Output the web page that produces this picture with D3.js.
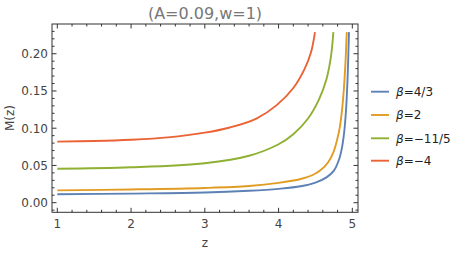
<!DOCTYPE html>
<html><head><meta charset="utf-8">
<script src="https://cdn.jsdelivr.net/npm/d3@7"></script>
<style>body{margin:0;background:#fff}svg{display:block}</style>
</head><body>
<script>
const title = "(A=0.09,w=1)";
const xTicks = [1, 2, 3, 4, 5];
const yTicks = [0, 0.05, 0.10, 0.15, 0.20];
const yTickLabels = ["0.00", "0.05", "0.10", "0.15", "0.20"];
const seriesNames = ["4/3", "2", "\u221211/5", "\u22124"];
const seriesColors = ["#5E81B5", "#E19C24", "#8FB032", "#EB6235"];

const blueZ = [1, 2, 3, 3.6, 4, 4.3, 4.5, 4.65, 4.75, 4.82, 4.86, 4.89, 4.915, 4.935, 4.955];
const blueM = [0.0113, 0.0122, 0.0136, 0.016, 0.0186, 0.022, 0.027, 0.034, 0.043, 0.058, 0.074, 0.095, 0.125, 0.165, 0.229];
const orangeZ = [1, 2, 3, 3.6, 4, 4.3, 4.47, 4.58, 4.67, 4.74, 4.79, 4.83, 4.86, 4.885, 4.907, 4.925];
const orangeM = [0.0166, 0.0178, 0.0198, 0.0224, 0.0266, 0.0318, 0.0375, 0.0445, 0.054, 0.067, 0.083, 0.101, 0.124, 0.152, 0.188, 0.229];
const greenZ = [1, 2, 3, 3.6, 4, 4.2, 4.4, 4.55, 4.65, 4.71, 4.743];
const greenM = [0.0456, 0.0475, 0.053, 0.063, 0.0785, 0.092, 0.113, 0.139, 0.166, 0.196, 0.229];
const redZ = [1, 1.5, 2, 2.5, 3, 3.34, 3.7, 3.975, 4.2, 4.35, 4.44, 4.494];
const redM = [0.082, 0.0828, 0.0845, 0.0877, 0.094, 0.101, 0.113, 0.131, 0.154, 0.179, 0.202, 0.229];

const series = [[blueZ, blueM], [orangeZ, orangeM], [greenZ, greenM], [redZ, redM]];

const W = 451, H = 254;
const svg = d3.select("body").append("svg").attr("width", W).attr("height", H)
  .style("font-family", "'DejaVu Sans', sans-serif");

const x = d3.scaleLinear().domain([0.928, 5.077]).range([52, 358]);
const y = d3.scaleLinear().domain([-0.0129, 0.2399]).range([212.3, 24]);

const frameColor = "#333";
const labelColor = "#444";

svg.append("clipPath").attr("id", "clip").append("rect")
  .attr("x", 52).attr("y", 24).attr("width", 306).attr("height", 188.3);

const line = d3.line().x(d => x(d[0])).y(d => y(d[1])).curve(d3.curveCatmullRom.alpha(0.5));
const g = svg.append("g").attr("clip-path", "url(#clip)");
series.forEach((s, i) => {
  const pts = s[0].map((z, k) => [z, s[1][k]]);
  g.append("path").attr("d", line(pts)).attr("fill", "none")
    .attr("stroke", seriesColors[i]).attr("stroke-width", 1.9)
    .attr("stroke-linejoin", "round");
});

svg.append("rect").attr("x", 52).attr("y", 24).attr("width", 306).attr("height", 188.3)
  .attr("fill", "none").attr("stroke", frameColor).attr("stroke-width", 1);

const xMinor = d3.range(1, 5.01, 0.2).filter(v => xTicks.every(t => Math.abs(t - v) > 1e-6));
const yMinor = d3.range(-0.01, 0.2399, 0.01).filter(v => yTicks.every(t => Math.abs(t - v) > 1e-6));
const tg = svg.append("g").attr("stroke", frameColor).attr("stroke-width", 1);
const addX = (v, len) => {
  tg.append("line").attr("x1", x(v)).attr("x2", x(v)).attr("y1", 212.3).attr("y2", 212.3 - len);
  tg.append("line").attr("x1", x(v)).attr("x2", x(v)).attr("y1", 24).attr("y2", 24 + len);
};
const addY = (v, len) => {
  tg.append("line").attr("y1", y(v)).attr("y2", y(v)).attr("x1", 52).attr("x2", 52 + len);
  tg.append("line").attr("y1", y(v)).attr("y2", y(v)).attr("x1", 358).attr("x2", 358 - len);
};
xTicks.forEach(v => addX(v, 4.5));
xMinor.forEach(v => addX(v, 2.5));
yTicks.forEach(v => addY(v, 4.5));
yMinor.forEach(v => addY(v, 2.5));

xTicks.forEach(v => svg.append("text").attr("x", x(v)).attr("y", 228)
  .attr("text-anchor", "middle").attr("font-size", 12).attr("fill", labelColor).text(v));
yTicks.forEach((v, i) => svg.append("text").attr("x", 48).attr("y", y(v) + 4.3)
  .attr("text-anchor", "end").attr("font-size", 12).attr("fill", labelColor).text(yTickLabels[i]));

svg.append("text").attr("x", 205).attr("y", 247).attr("text-anchor", "middle")
  .attr("font-size", 12).attr("fill", labelColor).text("z");
svg.append("text").attr("transform", "translate(14,118) rotate(-90)").attr("text-anchor", "middle")
  .attr("font-size", 12).attr("fill", labelColor).text("M(z)");

svg.append("text").attr("x", 205).attr("y", 19).attr("text-anchor", "middle")
  .attr("font-size", 16).attr("fill", "#777").text(title);

const legY = [91.7, 115, 138.3, 160.7];
seriesNames.forEach((n, i) => {
  svg.append("line").attr("x1", 371).attr("x2", 389).attr("y1", legY[i]).attr("y2", legY[i])
    .attr("stroke", seriesColors[i]).attr("stroke-width", 1.9);
  const t = svg.append("text").attr("x", 396).attr("y", legY[i] + 4.3)
    .attr("font-size", 12).attr("fill", "#222");
  t.append("tspan").attr("font-style", "italic").text("\u03B2");
  t.append("tspan").text("=" + n);
});
</script>
</body></html>
